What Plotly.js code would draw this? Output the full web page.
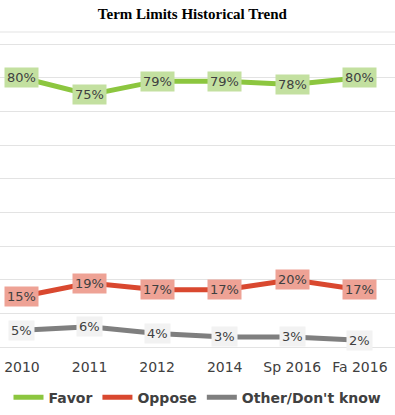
<!DOCTYPE html>
<html><head><meta charset="utf-8">
<script src="https://cdn.plot.ly/plotly-3.0.1.min.js"></script>
<style>html,body{margin:0;padding:0;background:#fff;}#chart{width:395px;height:415px;}</style>
</head><body><div id="chart"></div>
<script>
const categories = ["2010", "2011", "2012", "2014", "Sp 2016", "Fa 2016"];
const favor = [80, 75, 79, 79, 78, 80];
const oppose = [15, 19, 17, 17, 20, 17];
const other = [5, 6, 4, 3, 3, 2];
const seriesNames = ["Favor", "Oppose", "Other/Don't know"];

const lineColors = ["#8cc63f", "#d9482f", "#7f7f7f"];
const boxColors = ["#c3e0a0", "#eea295", "#f2f2f2"];
const allSeries = [favor, oppose, other];

const traces = allSeries.map((vals, i) => ({
  x: categories, y: vals, type: "scatter", mode: "lines",
  name: seriesNames[i], line: {color: lineColors[i], width: 5},
  hoverinfo: "skip"
}));

const annotations = [];
allSeries.forEach((vals, i) => {
  vals.forEach((v, j) => {
    annotations.push({
      x: j, y: v, xref: "x", yref: "y",
      text: v + "%", showarrow: false,
      font: {family: "DejaVu Sans", size: 13, color: "#404040"},
      bgcolor: boxColors[i], borderpad: 2,
      xanchor: "center", yanchor: "middle"
    });
  });
});

const layout = {
  width: 395, height: 415,
  margin: {l: 0, r: 0, t: 32, b: 68},
  paper_bgcolor: "#fff", plot_bgcolor: "#fff",
  title: {text: "<b>Term Limits Historical Trend</b>", x: 0.487, xanchor: "center", y: 0.968, yanchor: "middle",
          font: {family: "Liberation Serif", size: 15, color: "#000"}},
  xaxis: {type: "category", range: [-0.325, 5.52], showgrid: false, zeroline: false,
          showline: false, ticks: "", ticklabelstandoff: 10,
          tickfont: {family: "DejaVu Sans", size: 14, color: "#404040"}},
  yaxis: {range: [0, 93.6], dtick: 10, showticklabels: false, gridcolor: "#e3e3e3", gridwidth: 1,
          zeroline: true, zerolinecolor: "#e3e3e3", zerolinewidth: 1, showline: false, fixedrange: true},
  shapes: [{type: "line", xref: "paper", yref: "paper", x0: 0, x1: 1, y0: 1, y1: 1,
            line: {color: "#e3e3e3", width: 1}}],
  showlegend: true,
  legend: {orientation: "h", x: 0.5, xanchor: "center", y: -0.11, yanchor: "top",
           font: {family: "DejaVu Sans", size: 14, color: "#404040", weight: "bold"},
           itemwidth: 30, tracegroupgap: 0},
  annotations: annotations
};

Plotly.newPlot("chart", traces, layout, {displayModeBar: false, staticPlot: true});
</script></body></html>
